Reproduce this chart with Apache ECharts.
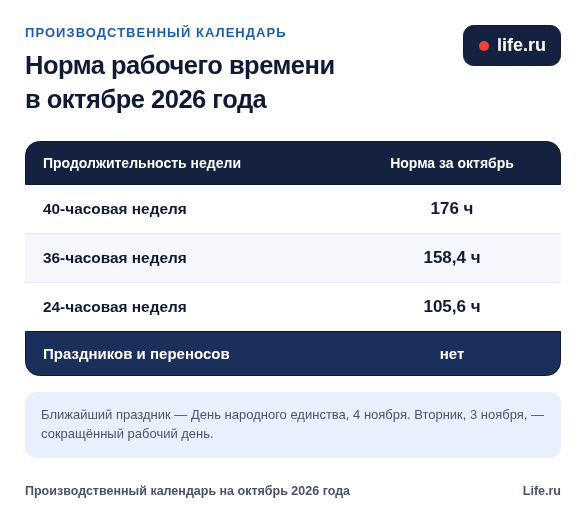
<!DOCTYPE html>
<html><head><meta charset="utf-8">
<script src="https://cdn.jsdelivr.net/npm/echarts@6/dist/echarts.min.js"></script>
<style>html,body{margin:0;padding:0;background:#fff}#c{width:586px;height:523px}</style>
</head><body><div id="c"></div>
<script>
const eyebrow = 'ПРОИЗВОДСТВЕННЫЙ КАЛЕНДАРЬ';
const titleLines = ['Норма рабочего времени', 'в октябре 2026 года'];
const badge = 'life.ru';
const headers = ['Продолжительность недели', 'Норма за октябрь'];
const rowLabels = ['40-часовая неделя', '36-часовая неделя', '24-часовая неделя'];
const rowValues = ['176 ч', '158,4 ч', '105,6 ч'];
const summary = ['Праздников и переносов', 'нет'];
const noteLines = ['Ближайший праздник — День народного единства, 4 ноября. Вторник, 3 ноября, —', 'сокращённый рабочий день.'];
const footer = ['Производственный календарь на октябрь 2026 года', 'Life.ru'];

// letter-spacing for the eyebrow and the title only
const spacing = { [eyebrow]: '1.04px', [titleLines[0]]: '-0.5px', [titleLines[1]]: '-0.5px' };
const origFill = CanvasRenderingContext2D.prototype.fillText;
CanvasRenderingContext2D.prototype.fillText = function (t, x, y, m) {
  if (spacing[t]) {
    const f = this.font;
    this.save();
    this.letterSpacing = spacing[t];
    this.font = f;
    origFill.call(this, t, x, y);
    this.letterSpacing = '0px';
    this.restore();
    this.font = '10px sans-serif';
    this.font = f;
    return;
  }
  return m === undefined ? origFill.call(this, t, x, y) : origFill.call(this, t, x, y, m);
};

const F = '"Liberation Sans", Arial, sans-serif';
const txt = (x, y, text, size, weight, fill, align) => ({
  type: 'text', x, y,
  style: { text, fill, align: align || 'left', verticalAlign: 'middle',
    font: `${weight} ${size}px ${F}` }
});
const rect = (x, y, width, height, fill, r, stroke) => ({
  type: 'rect', shape: { x, y, width, height, r: r || 0 },
  style: { fill, stroke: stroke || null, lineWidth: stroke ? 1 : 0 }
});
const L = 25, W = 536, VX = 452;
const NAVY = '#14213f', BLUE = '#1b2f5b', EDGE = '#0f1a36';
const rowY = [185, 234, 283];
const els = [
  txt(L, 33, eyebrow, 13, 'bold', '#1f5fa8'),
  txt(L, 67, titleLines[0], 25.5, 'bold', '#101a33'),
  txt(L, 101, titleLines[1], 25.5, 'bold', '#101a33'),
  rect(463.5, 25.5, 97, 40, NAVY, 10, EDGE),
  { type: 'circle', shape: { cx: 484, cy: 46, r: 5 }, style: { fill: '#f04438' } },
  txt(497, 46, badge, 18, 'bold', '#ffffff'),
  rect(L + 0.5, 141.5, W - 1, 43, NAVY, [14, 14, 0, 0], EDGE),
  txt(43, 164, headers[0], 14, 'bold', '#ffffff'),
  txt(VX, 164, headers[1], 14, 'bold', '#ffffff', 'center'),
  rect(L, 234, W, 49, '#f5f7fc'),
  rect(L, 233, W, 1, '#e8ebf2'),
  rect(L, 282, W, 1, '#e8ebf2'),
  rect(L + 0.5, 331.5, W - 1, 44, BLUE, [0, 0, 14, 14], EDGE),
  txt(43, 354.5, summary[0], 15, 'bold', '#ffffff'),
  txt(VX, 354.5, summary[1], 15, 'bold', '#ffffff', 'center'),
  rect(L, 392, W, 66, '#e8f0fd', 12),
  txt(41, 415, noteLines[0], 13, 'normal', '#4a5568'),
  txt(41, 434, noteLines[1], 13, 'normal', '#4a5568'),
  txt(L, 491.5, footer[0], 12.5, 'bold', '#4a5268'),
  txt(561, 491.5, footer[1], 12.5, 'bold', '#4a5268', 'right')
];
rowLabels.forEach((s, i) => {
  els.push(txt(43, rowY[i] + 24.5, s, 15.4, 'bold', '#101a33'));
  els.push(txt(VX, rowY[i] + 24, rowValues[i], 17, 'bold', '#101a33', 'center'));
});
const chart = echarts.init(document.getElementById('c'), null, { renderer: 'canvas' });
chart.setOption({ animation: false, backgroundColor: '#ffffff', graphic: { elements: els } });
</script></body></html>
